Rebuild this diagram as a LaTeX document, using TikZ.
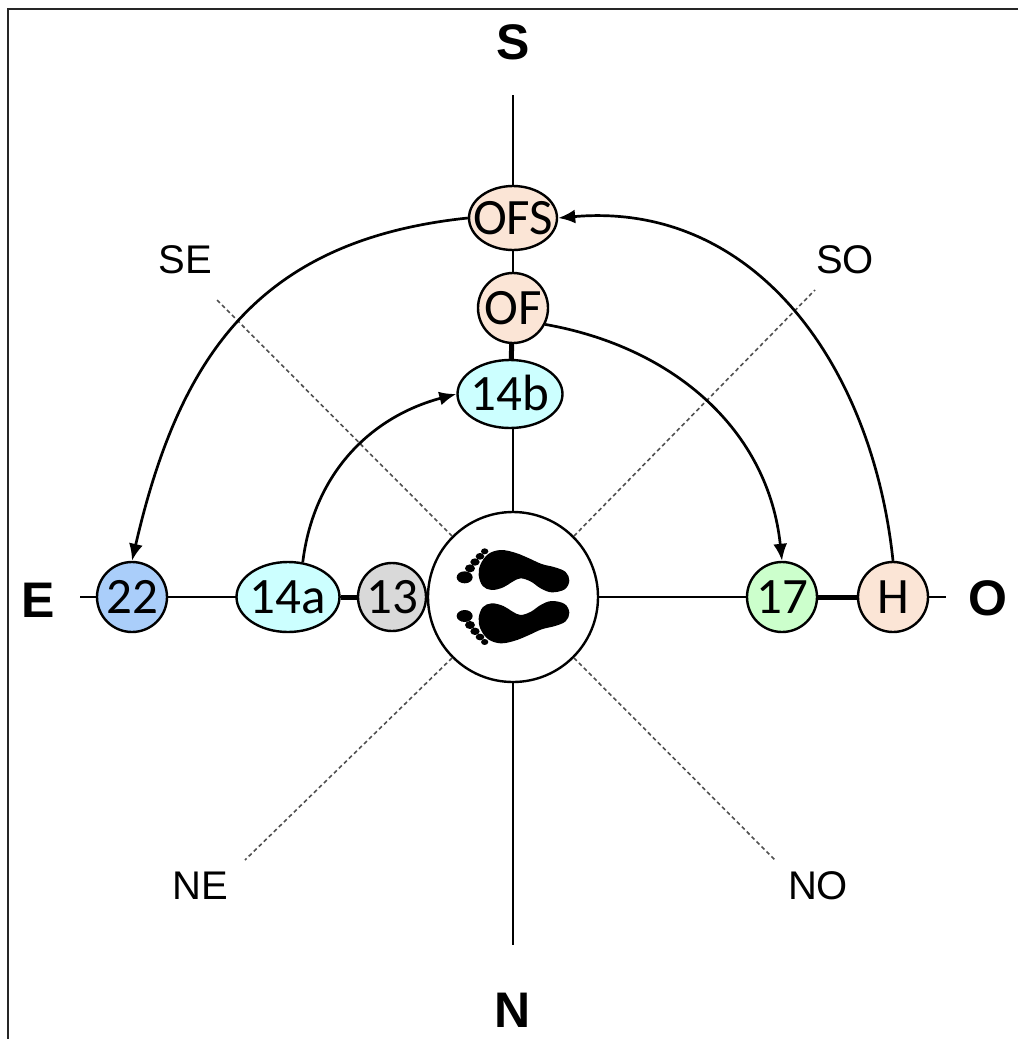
\documentclass[tikz,border=0pt]{standalone}
\usepackage{fontspec}
\setmainfont{Liberation Sans}
\newfontfamily\calfont{Carlito}
\usetikzlibrary{arrows.meta,shapes.geometric}
\definecolor{peach}{RGB}{251,229,214}
\definecolor{cyanf}{RGB}{204,255,255}
\definecolor{bluef}{RGB}{170,206,250}
\definecolor{grayf}{RGB}{217,217,217}
\definecolor{greenf}{RGB}{204,255,204}
\definecolor{dashc}{RGB}{80,80,80}
\newcommand\lbl[1]{\smash{\makebox[0pt]{\raisebox{-0.32em}{#1}}}}
\tikzset{
  axis/.style={line width=1.8pt,black},
  diag/.style={line width=1.6pt,dashc,dash pattern=on 4pt off 3pt},
  bubble/.style={draw,line width=2.4pt,inner sep=0pt,font=\calfont\fontsize{51}{51}\selectfont},
  rnd/.style={bubble,circle},
  oval/.style={bubble,ellipse},
  thickcon/.style={line width=5pt,black},
  arr/.style={line width=2.7pt,-{Latex[length=17pt,width=14pt]}},
  dirb/.style={font=\bfseries\fontsize{50}{50}\selectfont},
  dirs/.style={font=\fontsize{40}{40}\selectfont},
}
\begin{document}
\begin{tikzpicture}[x=1pt,y=1pt]
\useasboundingbox (0,0) rectangle (1018,-1039);
% frame
\draw[line width=2.5pt,black!85] (8,-1039) -- (8,-9) -- (1018,-9);
% axes
\coordinate (axS) at (513,-95);
\coordinate (axN) at (513,-945);
\coordinate (axE) at (80,-597);
\coordinate (axO) at (946,-597);
\draw[axis] (axS) -- (axN);
\draw[axis] (axE) -- (axO);
% center
\node[circle,draw,fill=white,line width=2.4pt,minimum size=170pt,inner sep=0pt] (C) at (513,-597) {};
% diagonals
\coordinate (dSE) at (215,-298);
\coordinate (dSO) at (815,-290);
\coordinate (dNE) at (245,-860);
\coordinate (dNO) at (775,-860);
\draw[diag] (C.135) -- (dSE);
\draw[diag] (C.45) -- (dSO);
\draw[diag] (C.225) -- (dNE);
\draw[diag] (C.-45) -- (dNO);
% compass labels
\node[dirb] (lS) at (513,-42) {S};
\node[dirb] (lN) at (513,-1010) {N};
\node[dirb] (lE) at (38,-600) {E};
\node[dirb] (lO) at (988,-598) {O};
\node[dirs] (lSE) at (185,-260) {SE};
\node[dirs] (lSO) at (845,-260) {SO};
\node[dirs] (lNE) at (200,-886) {NE};
\node[dirs] (lNO) at (818,-886) {NO};
% bubbles
\node[oval,fill=peach,minimum width=88pt,minimum height=64pt] (OFS) at (513,-218) {\lbl{OFS}};
\node[rnd,fill=peach,minimum size=70pt] (OF) at (513,-308) {\lbl{OF}};
\node[oval,fill=cyanf,minimum width=105pt,minimum height=68pt] (b14) at (510,-394) {\lbl{14b}};
\node[rnd,fill=bluef,minimum size=70pt] (n22) at (132,-597) {\lbl{22}};
\node[oval,fill=cyanf,minimum width=103pt,minimum height=70pt] (a14) at (288,-597) {\lbl{14a}};
\node[rnd,fill=grayf,minimum size=68pt] (n13) at (392,-597) {\lbl{13}};
\node[rnd,fill=greenf,minimum size=70pt] (n17) at (782,-597) {\lbl{17}};
\node[rnd,fill=peach,minimum size=70pt] (H) at (893,-597) {\lbl{H}};
% thick connectors
\draw[thickcon] (OF) -- (b14);
\draw[thickcon] (a14) -- (n13);
\draw[thickcon] (n17) -- (H);
% arrows
\draw[arr] (OFS.west) to[out=186,in=77,looseness=1.12] (n22.north);
\draw[arr] (H.north) to[out=96,in=5,looseness=1.05] (OFS.east);
\draw[arr] (OF.-27) to[out=-10,in=96] (n17.north);
\draw[arr] (a14.67) to[out=83,in=195] (b14.west);
% feet
\begin{scope}[shift={(450,-540)},x=0.3333pt,y=-0.3333pt]
  \foreach \ys/\sh in {1/0,-1/340}{
  \begin{scope}[shift={(0,\sh)},yscale=\ys]
    \fill[black] plot[smooth cycle,tension=0.6] coordinates {
      (92,72) (115,42) (152,30) (195,38) (235,54) (275,72) (315,82) (347,96)
      (358,122) (344,148) (305,157) (272,145) (243,125) (212,115) (188,125)
      (160,142) (125,150) (98,138) (86,105)};
    \fill[black] (44,112) ellipse[x radius=24,y radius=18];
    \fill[black] (60,85) ellipse[x radius=15,y radius=12];
    \fill[black] (75,66) ellipse[x radius=14,y radius=11];
    \fill[black] (90,49) ellipse[x radius=13,y radius=10];
    \fill[black] (104,34) ellipse[x radius=11,y radius=9];
  \end{scope}}
\end{scope}
\end{tikzpicture}
\end{document}
